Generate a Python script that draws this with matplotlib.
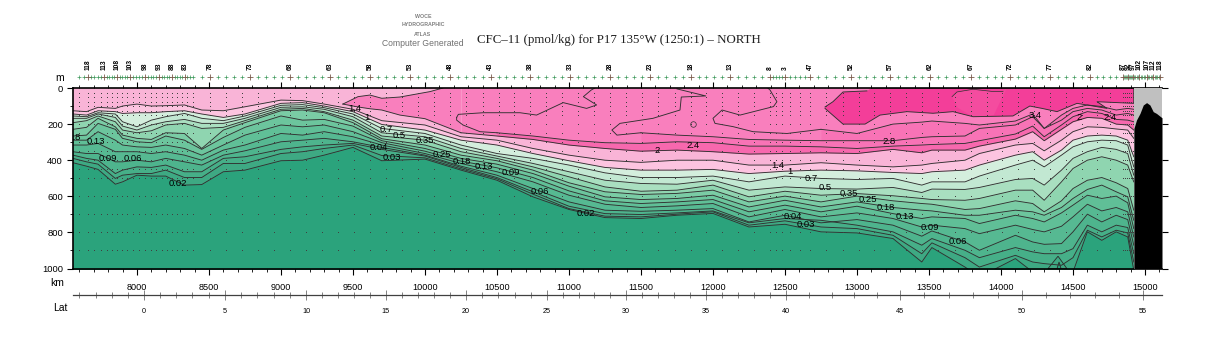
import numpy as np
import matplotlib
matplotlib.use('Agg')
import matplotlib.pyplot as plt
from matplotlib.ticker import MultipleLocator, FixedLocator

plt.rcParams['font.family'] = ['Liberation Sans', 'DejaVu Sans']

n = np.nan

# distance along the section (km), the columns the isolines were read at
km = [7556, 7650, 7730, 7850, 7900, 8000, 8100, 8200, 8330, 8450, 8600, 8750, 9000, 9150, 9300, 9500, 9700, 10000,
      10250, 10500, 10750, 11000, 11250, 11500, 11750, 12000, 12250, 12500, 12750,
      13000, 13250, 13450, 13520, 13750, 13850, 14100, 14220, 14300, 14420, 14500, 14600, 14700, 14800, 14880, 14922]

# isoline depths (m), one list per CFC-11 level
d_30 = [n]*28 + [229, 252, 200, 189, 183, 196, 205, 183, 144, 224, 150, 113, 94, 103, 122, 113, 118]
d_28 = [n]*23 + [248, 261, 270, 285, 289, 292, 292, 292, 274, 270, 266, 224, 205, 159, 224, 178, 131, 113, 122, 150, 141, 150]
d_24 = [n]*19 + [248, 266, 289, 303, 307, 298, 303, 322, 322, 326,
                 335, 322, 316, 313, 307, 292, 255, 211, 270, 205, 159, 131, 141, 174, 178, 187]
d_20 = [n]*18 + [248, 266, 285, 316, 335, 350, 344, 353, 366, 363, 359,
                 363, 340, 359, 344, 344, 322, 283, 242, 292, 229, 187, 163, 168, 200, 205, 233]
d_14 = [126, 131, 107, 113, 100, 89, 100, 98, 94, 122, 126, 104, 67, 70, 89, 118, 181, 205,
        270, 289, 335, 372, 400, 412, 400, 400, 427, 427, 414,
        427, 437, 427, 418, 400, 363, 316, 307, 348, 289, 242, 215, 218, 227, 233, 279]
d_10 = [144, 150, 126, 131, 141, 137, 137, 131, 126, 144, 163, 144, 85, 81, 100, 131, 202, 233,
        289, 316, 363, 403, 440, 455, 455, 451, 474, 461, 455,
        459, 468, 474, 464, 455, 427, 372, 353, 400, 344, 289, 266, 261, 266, 289, 381]
d_07 = [155, 159, 137, 144, 187, 215, 178, 159, 141, 168, 181, 155, 96, 92, 109, 144, 224, 252,
        316, 363, 390, 427, 470, 496, 496, 488, 520, 488, 501,
        507, 501, 538, 520, 520, 488, 427, 400, 437, 372, 326, 298, 289, 292, 316, 437]
d_05 = [168, 168, 144, 163, 211, 233, 205, 187, 174, 196, 196, 168, 107, 104, 118, 159, 248, 270,
        335, 377, 418, 464, 511, 529, 533, 511, 566, 548, 557,
        560, 551, 579, 560, 562, 551, 507, 501, 538, 455, 390, 353, 329, 340, 363, 483]
d_035 = [192, 181, 155, 187, 233, 248, 237, 205, 196, 224, 218, 181, 118, 113, 131, 178, 266, 289,
         353, 390, 437, 492, 548, 572, 566, 538, 603, 572, 594,
         585, 597, 612, 618, 622, 612, 566, 566, 622, 520, 446, 400, 381, 400, 427, 520]
d_025 = [229, 218, 168, 215, 261, 279, 285, 248, 252, 335, 233, 192, 126, 122, 137, 192, 281, 316,
         372, 403, 455, 525, 575, 590, 584, 566, 631, 599, 631,
         599, 625, 640, 644, 673, 668, 625, 640, 686, 625, 557, 511, 496, 525, 557, 677]
d_018 = [266, 261, 196, 229, 279, 298, 303, 266, 289, 340, 274, 218, 155, 178, 174, 211, 292, 335,
         390, 422, 474, 544, 603, 618, 612, 594, 659, 622, 659,
         631, 662, 677, 681, 705, 705, 677, 686, 705, 662, 612, 562, 538, 575, 603, 733]
d_013 = [289, 289, 242, 289, 316, 326, 329, 316, 335, 372, 316, 261, 205, 215, 205, 242, 303, 350,
         405, 442, 496, 570, 625, 640, 631, 618, 686, 649, 686,
         655, 696, 723, 714, 723, 751, 705, 723, 742, 692, 649, 594, 612, 599, 636, 779]
d_009 = [316, 316, 307, 353, 353, 353, 363, 353, 372, 400, 344, 316, 252, 261, 242, 270, 316, 363,
         418, 464, 520, 594, 644, 662, 653, 640, 714, 673, 714,
         692, 723, 770, 760, 779, 807, 760, 784, 797, 766, 714, 644, 681, 662, 686, 825]
d_006 = [353, 363, 363, 409, 409, 400, 409, 390, 409, 427, 372, 348, 298, 289, 279, 298, 329, 372,
         433, 483, 557, 631, 677, 683, 677, 668, 742, 705, 747,
         729, 760, 821, 792, 853, 899, 816, 853, 866, 862, 797, 699, 742, 705, 729, 871]
d_004 = [372, 390, 400, 474, 455, 437, 440, 427, 464, 464, 390, 381, 340, 326, 316, 307, 340, 377,
         440, 496, 575, 655, 696, 701, 692, 681, 747, 723, 733,
         760, 797, 871, 834, 899, 940, 884, 908, 918, 918, 890, 760, 797, 760, 773, 918]
d_003 = [390, 409, 422, 501, 483, 474, 474, 455, 496, 496, 418, 418, 363, 353, 335, 316, 374, 387,
         448, 503, 588, 668, 710, 714, 699, 686, 760, 736, 770,
         779, 816, 918, 858, 940, 992, 927, 964, 973, 982, 940, 788, 825, 788, 803, 964]
d_002 = [414, 433, 451, 533, 520, 483, 488, 488, 538, 535, 464, 455, 403, 400, 372, 329, 403, 394,
         455, 511, 603, 673, 718, 723, 705, 695, 770, 755, 797,
         803, 834, 964, 884, 992, 1047, 945, 1019, 1047, 1047, 1019, 797, 844, 797, 825, 1010]

levels = [d_30, d_28, d_24, d_20, d_14, d_10, d_07, d_05, d_035, d_025, d_018, d_013, d_009, d_006, d_004, d_003, d_002]
band_colors = ['#f873b6', '#f873b6', '#f768ae', '#f9b4d7', '#fcc4e0', '#d4eedd', '#c2e8d2', '#a9dfc0', '#8fd5b0',
               '#7acca5', '#6cc59d', '#60bf97', '#56b992', '#4eb48d', '#46af88', '#3ea983', '#2ba37c']

# closed patches of the upper water
bubble_km = [9430, 9535, 9618, 9700, 9826, 10035, 10125, 10250, 10250, 10000, 9826, 9700, 9618, 9535, 9430]
bubble_d = [89, 48, 39, 57, 50, 20, 0, 0, 248, 170, 150, 122, 115, 105, 89]
dark_km = [12778, 12833, 12903, 13069, 13104, 14922, 14922, 14667, 14736, 14528, 14389, 14285, 14200, 14083,
           13806, 13667, 13528, 13347, 13160, 13056, 12903, 12778]
dark_d = [105, 76, 22, 16, 0, 0, 85, 76, 113, 85, 131, 113, 100, 155, 159, 131, 140, 131, 150, 200, 200, 113]
lens_km = [13660, 13694, 13806, 13950, 14014, 14040, 13950, 13806, 13700, 13660]
lens_d = [48, 22, 7, 20, 20, 0, 150, 159, 110, 48]

# loose isolines
loop1_km = [10220, 10232, 10405, 10660, 10775, 10960, 11122, 11192, 11100, 11155, 11180]
loop1_d = [163, 146, 137, 137, 150, 81, 113, 94, 48, 11, 0]
loop1b_km = [10220, 10220, 10264, 10382, 10500]
loop1b_d = [163, 178, 205, 242, 248]
loop2_km = [11750, 11950, 11780, 11771, 11583, 11354, 11298, 11333, 11500]
loop2_d = [5, 44, 50, 122, 168, 196, 233, 261, 248]
loop3_km = [12380, 12396, 12444, 12420, 12188, 12063, 12000, 12014, 12139, 12278, 12514, 12750]
loop3_d = [0, 11, 76, 103, 150, 122, 168, 196, 214, 242, 252, 229]
ring_km = [11861]
ring_d = [202]

# small features at the bottom of the section
spike_km = [14389, 14403, 14417]
spike_d = [1001, 964, 1001]
spike_outer_km = [14326, 14396, 14458]
spike_outer_d = [1001, 932, 1001]

# bathymetry panel at the north end
topo_km = [14923, 14941, 14965, 14988, 15011, 15034, 15057, 15080, 15118]
topo_d = [224, 177, 141, 94, 81, 94, 131, 141, 165]

# stations
big_km = [7660, 7771, 7861, 7951, 8056, 8153, 8243, 8333, 8507, 8785, 9063, 9340, 9618, 9896, 10174, 10458, 10729,
          11007, 11285, 11563, 11847, 12118, 12396, 12500, 12674, 12958, 13229, 13507, 13792, 14063, 14340, 14618,
          14847, 14882, 14917, 14958, 15014, 15056, 15104]
big_labels = ['118', '113', '108', '103', '98', '93', '88', '83', '78', '73', '68', '63', '58', '53', '48', '43', '38',
              '33', '28', '23', '18', '13', '8', '3', '47', '52', '57', '62', '67', '72', '77', '82',
              '87', '92', '97', '102', '107', '112', '118']
small_km = [7597, 7632, 7682, 7704, 7727, 7749, 7789, 7807, 7825, 7843, 7879, 7897, 7915, 7933, 7972, 7993, 8014, 8035,
            8075, 8095, 8114, 8134, 8171, 8189, 8207, 8225, 8261, 8279, 8297, 8315, 8350, 8370, 8390, 8450,
            8563, 8618, 8674, 8729, 8840, 8896, 8952, 9007, 9118, 9174, 9229, 9285, 9396, 9451, 9507, 9562,
            9674, 9729, 9785, 9840, 9952, 10007, 10063, 10118, 10231, 10288, 10344, 10401, 10512, 10566, 10621, 10675,
            10785, 10840, 10896, 10951, 11063, 11118, 11174, 11229, 11340, 11396, 11451, 11507, 11620, 11676, 11733, 11790,
            11901, 11955, 12010, 12064, 12174, 12229, 12285, 12340, 12417, 12438, 12458, 12479, 12535, 12570, 12604, 12639,
            12731, 12788, 12844, 12901, 13012, 13066, 13121, 13175, 13285, 13340, 13396, 13451, 13564, 13621, 13678, 13735,
            13846, 13900, 13955, 14009, 14118, 14174, 14229, 14285, 14396, 14451, 14507, 14562, 14664, 14710, 14755, 14801,
            14854, 14861, 14868, 14875, 14889, 14896, 14903, 14910, 14925, 14933, 14942, 14950, 14969, 14980, 14992, 15003,
            15022, 15031, 15039, 15048, 15066, 15075, 15085, 15094]
bottle_depths = [25, 50, 75, 100, 125, 150, 200, 250, 300, 350, 400, 450, 500, 600, 700, 800, 900]

# contour labels
label_text = ['1.4', '1', '0.7', '0.5', '0.35', '0.25', '0.18', '0.13', '0.09', '0.06', '0.02', '0.04', '0.03',
              '0.04', '0.03', '0.18', '0.13', '0.09', '0.06', '0.02', '2', '2.4', '1.4', '1', '0.7', '0.5', '0.35',
              '0.25', '0.18', '0.13', '0.09', '0.06', '2.8', '3.4', '2', '2.4']
label_km = [9514, 9597, 9729, 9819, 10000, 10118, 10257, 10410, 10597, 10799, 11118, 12556, 12646,
            9681, 9771, 7549, 7715, 7799, 7972, 8285, 11611, 11861, 12451, 12535, 12681, 12778, 12944,
            13076, 13201, 13333, 13507, 13701, 13222, 14236, 14542, 14757]
label_d = [111, 161, 228, 261, 289, 366, 405, 433, 466, 572, 694, 710, 755,
           327, 383, 272, 294, 388, 388, 527, 344, 316, 427, 461, 500, 549, 583,
           616, 660, 710, 771, 849, 294, 150, 166, 166]

# latitude scale, position of the labelled parallels along the section
lat_ticks = [-4.4, 0, 5, 10, 15, 20, 25, 30, 35, 40, 45, 50, 55]
lat_km = [7556, 8048, 8611, 9174, 9729, 10285, 10847, 11396, 11951, 12507, 13299, 14146, 14986]

W, H = 1215.0, 350.0
fig = plt.figure(figsize=(12.15, 3.5), dpi=100)
ax = fig.add_axes([73/W, (H-268.5)/H, 1089/W, 180.5/H])
ax.set_xlim(7556, 15118)
ax.set_ylim(1000, 0)

# painted from the surface down, each band covers what lies below it
ax.fill_between([7556, 14922], 0, 1000, color='#f9b4d7', lw=0)
ax.fill_between(km, 0, d_20, color='#f97fbd', lw=0)
ax.fill(bubble_km, bubble_d, color='#f97fbd', lw=0)
ax.fill(dark_km, dark_d, color='#f33e99', lw=0)
ax.fill(lens_km, lens_d, color='#f44c9f', lw=0)
for line, color in zip(levels, band_colors):
    ax.fill_between(km, line, 1100, color=color, lw=0)
ax.fill(spike_outer_km, spike_outer_d, color=band_colors[-2], ec='#2a2a2a', lw=0.6)
ax.fill(spike_km, spike_d, color=band_colors[-1], ec='#2a2a2a', lw=0.6)

linecolor = '#303030'
for line in levels:
    ax.plot(km, line, color=linecolor, lw=0.65, solid_joinstyle='round')
# the bubble outline without its cut along the surface and at the right edge
ax.plot(bubble_km[:7], bubble_d[:7], color=linecolor, lw=0.65)
ax.plot(bubble_km[8:], bubble_d[8:], color=linecolor, lw=0.65)
ax.plot(dark_km[4:], dark_d[4:], color=linecolor, lw=0.65)
ax.plot(dark_km[:4], dark_d[:4], color=linecolor, lw=0.65)
ax.plot(lens_km[:5], lens_d[:5], color=linecolor, lw=0.5)
ax.plot(loop1_km, loop1_d, color=linecolor, lw=0.65)
ax.plot(loop1b_km, loop1b_d, color=linecolor, lw=0.65)
ax.plot(loop2_km, loop2_d, color=linecolor, lw=0.65)
ax.plot(loop3_km, loop3_d, color=linecolor, lw=0.65)
ax.plot(ring_km, ring_d, 'o', mfc='none', mec=linecolor, ms=4, mew=0.5)

# bottle samples
sample_km = sorted(big_km + small_km)[::2]
for depth in bottle_depths:
    xs = [s for s in sample_km if s < 14920]
    ax.plot(xs, [depth]*len(xs), ls='none', marker='s', ms=0.7, mew=0, color='#404040')

# north end panel
ax.axvspan(14922, 15118, color='#c0c0c0', lw=0, zorder=3)
ax.fill_between(topo_km, topo_d, 1000, color='black', lw=0, zorder=3)

for t, x, y in zip(label_text, label_km, label_d):
    ax.text(x, y, t, fontsize=6.8, ha='center', va='center', color='black', zorder=4, clip_on=True)

# axes furniture
for side in ['left', 'top', 'bottom']:
    ax.spines[side].set_linewidth(1.2)
ax.spines['right'].set_visible(False)
ax.xaxis.set_major_locator(MultipleLocator(500))
ax.xaxis.set_minor_locator(MultipleLocator(100))
ax.yaxis.set_major_locator(MultipleLocator(200))
ax.yaxis.set_minor_locator(MultipleLocator(100))
ax.tick_params(axis='x', which='major', top=True, bottom=True, length=4.2, width=0.8, labelsize=6.6, pad=6)
ax.tick_params(axis='x', which='minor', top=True, bottom=True, length=2.0, width=0.6)
ax.tick_params(axis='y', which='major', left=True, right=True, length=4.2, width=0.8, labelsize=6.8, pad=3)
ax.tick_params(axis='y', which='minor', left=True, right=False, length=2.0, width=0.6)

trans = ax.get_xaxis_transform()
row_y = (268.5-77)/180.5
ax.plot(small_km, [row_y]*len(small_km), ls='none', marker='+', ms=3.2, mew=0.5, color='#3f9a5c', transform=trans, clip_on=False)
ax.plot(big_km, [row_y]*len(big_km), ls='none', marker='+', ms=5, mew=0.6, color='#7a5a4a', transform=trans, clip_on=False)
for x, t in zip(big_km, big_labels):
    ax.text(x, (268.5-70)/180.5, t, transform=trans, rotation=90, ha='center', va='bottom', fontsize=4.8,
            fontweight='bold', clip_on=False)

# latitude axis
ax_lat = fig.add_axes([73/W, (H-295)/H, 1089/W, 0.0001])
ax_lat.set_xlim(7556, 15118)
ax_lat.patch.set_visible(False)
for side in ['left', 'top', 'right']:
    ax_lat.spines[side].set_visible(False)
ax_lat.spines['bottom'].set_linewidth(0.9)
ax_lat.spines['bottom'].set_color('#404040')
ax_lat.set_yticks([])
lat_all = np.arange(-4, 56)
ax_lat.xaxis.set_minor_locator(FixedLocator(np.interp(lat_all, lat_ticks, lat_km)))
ax_lat.set_xticks(lat_km[1:])
ax_lat.set_xticklabels([str(v) for v in lat_ticks[1:]], fontsize=5.2)
ax_lat.tick_params(axis='x', which='major', direction='inout', length=7, width=0.5, color='#505050', pad=6)
ax_lat.tick_params(axis='x', which='minor', direction='inout', length=5, width=0.5, color='#505050')

fig.text(60/W, 1-78/H, 'm', fontsize=7.5, ha='center', va='center')
fig.text(57/W, 1-283/H, 'km', fontsize=7.5, ha='center', va='center')
fig.text(60/W, 1-308/H, 'Lat', fontsize=7.5, ha='center', va='center')

fig.text(477/W, 1-40/H, 'CFC\u201311 (pmol/kg) for P17 135\u00b0W (1250:1) \u2013 NORTH', fontsize=9.25,
         family=['Liberation Serif', 'DejaVu Serif'], ha='left', va='center', color='#202020')
fig.text(423/W, 1-17/H, 'WOCE', fontsize=3.8, fontweight='bold', ha='center', va='center', color='#808080')
fig.text(423/W, 1-25/H, 'HYDROGRAPHIC', fontsize=3.8, fontweight='bold', ha='center', va='center', color='#808080')
fig.text(423/W, 1-34/H, 'ATLAS', fontsize=3.8, fontweight='bold', ha='center', va='center', color='#808080')
fig.text(423/W, 1-43/H, 'Computer Generated', fontsize=6.2, ha='center', va='center', color='#707070')

fig.savefig('out.png', dpi=100)
